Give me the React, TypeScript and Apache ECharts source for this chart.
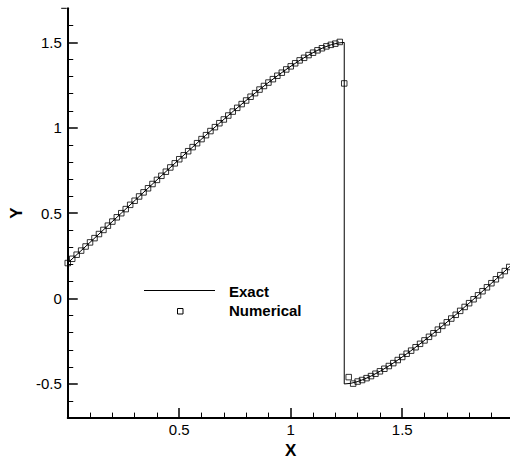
import React, { useEffect, useRef } from "react";
import * as echarts from "echarts";

// Exact solution (x, y)
const exactX = [-0.0145, 0.0483, 0.1118, 0.1758, 0.24, 0.3043, 0.3682, 0.4317, 0.4945, 0.5564, 0.617, 0.6763, 0.7339, 0.7897, 0.8436, 0.8952, 0.9445, 0.9913, 1.0355, 1.077, 1.1156, 1.1512, 1.1839, 1.2135, 1.24, 1.24, 1.2666, 1.2962, 1.3288, 1.3645, 1.4031, 1.4445, 1.4887, 1.5355, 1.5848, 1.6364, 1.6903, 1.7461, 1.8038, 1.863, 1.9237, 1.9855, 2.0483];
const exactY = [0.191, 0.2666, 0.3436, 0.4215, 0.5, 0.5785, 0.6564, 0.7334, 0.809, 0.8827, 0.954, 1.0225, 1.0878, 1.1494, 1.2071, 1.2604, 1.309, 1.3526, 1.391, 1.4239, 1.4511, 1.4724, 1.4877, 1.4969, 1.5, -0.5, -0.4969, -0.4877, -0.4724, -0.4511, -0.4239, -0.391, -0.3526, -0.309, -0.2604, -0.2071, -0.1494, -0.0878, -0.0225, 0.046, 0.1173, 0.191, 0.2666];

// Numerical solution
const numX = [0, 0.02, 0.04, 0.06, 0.08, 0.1, 0.12, 0.14, 0.16, 0.18, 0.2, 0.22, 0.24, 0.26, 0.28, 0.3, 0.32, 0.34, 0.36, 0.38, 0.4, 0.42, 0.44, 0.46, 0.48, 0.5, 0.52, 0.54, 0.56, 0.58, 0.6, 0.62, 0.64, 0.66, 0.68, 0.7, 0.72, 0.74, 0.76, 0.78, 0.8, 0.82, 0.84, 0.86, 0.88, 0.9, 0.92, 0.94, 0.96, 0.98, 1.0, 1.02, 1.04, 1.06, 1.08, 1.1, 1.12, 1.14, 1.16, 1.18, 1.2, 1.22, 1.24, 1.26, 1.28, 1.3, 1.32, 1.34, 1.36, 1.38, 1.4, 1.42, 1.44, 1.46, 1.48, 1.5, 1.52, 1.54, 1.56, 1.58, 1.6, 1.62, 1.64, 1.66, 1.68, 1.7, 1.72, 1.74, 1.76, 1.78, 1.8, 1.82, 1.84, 1.86, 1.88, 1.9, 1.92, 1.94, 1.96, 1.98];
const numY = [0.208, 0.233, 0.257, 0.281, 0.305, 0.329, 0.354, 0.378, 0.402, 0.427, 0.451, 0.476, 0.5, 0.524, 0.549, 0.573, 0.598, 0.622, 0.646, 0.671, 0.695, 0.719, 0.743, 0.768, 0.792, 0.816, 0.839, 0.863, 0.887, 0.91, 0.934, 0.957, 0.981, 1.004, 1.027, 1.049, 1.072, 1.095, 1.117, 1.139, 1.16, 1.182, 1.203, 1.224, 1.245, 1.265, 1.285, 1.305, 1.323, 1.342, 1.36, 1.378, 1.395, 1.41, 1.426, 1.44, 1.454, 1.466, 1.477, 1.486, 1.493, 1.503, 1.26, -0.46, -0.498, -0.486, -0.477, -0.466, -0.454, -0.44, -0.426, -0.411, -0.395, -0.378, -0.36, -0.342, -0.323, -0.305, -0.285, -0.265, -0.245, -0.224, -0.203, -0.182, -0.16, -0.139, -0.117, -0.095, -0.072, -0.049, -0.027, -0.004, 0.019, 0.043, 0.066, 0.09, 0.113, 0.137, 0.161, 0.185];

const yTickValues = [-0.5, 0, 0.5, 1, 1.5];
const legendNames = ["Exact", "Numerical"];

const FONT = "Liberation Sans, Arial, sans-serif";

export default function App() {
  const ref = useRef<HTMLDivElement>(null);
  useEffect(() => {
    if (!ref.current) return;
    const chart = echarts.init(ref.current, null, { renderer: "svg" });
    const exactData = exactX.map((x, i) => [x, exactY[i]]);
    const numData = numX.map((x, i) => [x, numY[i]]);
    chart.setOption({
      animation: false,
      backgroundColor: "#fff",
      grid: { left: 61.2, right: 0.3, top: 8.3, bottom: 43, containLabel: false },
      xAxis: {
        type: "value",
        min: 0,
        max: 2,
        interval: 0.5,
        name: "X",
        nameLocation: "middle",
        nameGap: 18.5,
        nameTextStyle: { fontFamily: FONT, fontWeight: "bold", fontSize: 17, color: "#000" },
        axisLine: { show: true, onZero: false, lineStyle: { color: "#000", width: 2 } },
        axisTick: { show: true, inside: true, length: 10, lineStyle: { color: "#000", width: 1.5 } },
        minorTick: { show: true, splitNumber: 5, length: 5.5, lineStyle: { color: "#000", width: 1 } },
        axisLabel: { show: true, margin: 4, fontFamily: FONT, fontSize: 15, color: "#000", showMinLabel: false, showMaxLabel: false },
        splitLine: { show: false },
        minorSplitLine: { show: false },
      },
      yAxis: {
        type: "value",
        min: -0.7,
        max: 1.7,
        name: "Y",
        nameLocation: "middle",
        nameGap: 31,
        nameTextStyle: { fontFamily: FONT, fontWeight: "bold", fontSize: 17, color: "#000" },
        axisLine: { show: true, onZero: false, lineStyle: { color: "#000", width: 2 } },
        axisTick: { show: true, inside: true, length: 10, customValues: yTickValues, lineStyle: { color: "#000", width: 1.5 } },
        minorTick: { show: true, splitNumber: 5, length: 5.5, lineStyle: { color: "#000", width: 1 } },
        axisLabel: { show: true, margin: 6, fontFamily: FONT, fontSize: 15, color: "#000", customValues: yTickValues },
        splitLine: { show: false },
        minorSplitLine: { show: false },
      },
      graphic: [
        { type: "line", shape: { x1: 61.2, y1: 8.3, x2: 66.7, y2: 8.3 }, style: { stroke: "#000", lineWidth: 1 } },
        { type: "line", shape: { x1: 144, y1: 290.5, x2: 215, y2: 290.5 }, style: { stroke: "#000", lineWidth: 1 } },
        { type: "text", x: 229, y: 291, style: { text: legendNames[0], fontFamily: FONT, fontWeight: "bold", fontSize: 15, fill: "#000", textVerticalAlign: "middle" } },
        { type: "rect", shape: { x: 177.5, y: 308.5, width: 5.5, height: 5.5 }, style: { stroke: "#000", fill: "none", lineWidth: 1 } },
        { type: "text", x: 229, y: 310, style: { text: legendNames[1], fontFamily: FONT, fontWeight: "bold", fontSize: 15, fill: "#000", textVerticalAlign: "middle" } },
      ],
      series: [
        {
          name: legendNames[0],
          type: "line",
          data: exactData,
          symbol: "none",
          smooth: false,
          clip: true,
          lineStyle: { color: "#000", width: 1 },
          z: 2,
        },
        {
          name: legendNames[1],
          type: "scatter",
          data: numData,
          symbol: "rect",
          symbolSize: 5.5,
          clip: true,
          itemStyle: { color: "rgba(0,0,0,0)", borderColor: "#000", borderWidth: 1 },
          z: 3,
        },
      ],
    });
    return () => chart.dispose();
  }, []);
  return (
    <div style={{ position: "fixed", left: 0, top: 0, width: 510, height: 464, overflow: "hidden", background: "#fff" }}>
      <div ref={ref} style={{ width: 514, height: 464 }} />
    </div>
  );
}
